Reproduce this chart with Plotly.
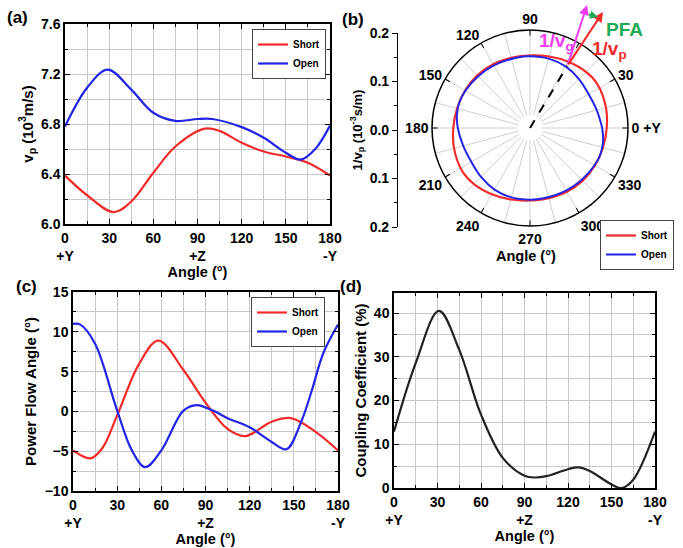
import plotly.graph_objects as go
import numpy as np

W, H = 683, 548

# ---------------- data ----------------
# (a) phase velocity (10^3 m/s)
a_short_ang = [0, 15, 33, 45, 60, 75, 95, 105, 120, 135, 150, 165, 180]
a_short_v = [6.387, 6.23, 6.095, 6.18, 6.41, 6.62, 6.763, 6.745, 6.65, 6.58, 6.54, 6.49, 6.387]
a_open_ang = [0, 15, 29, 45, 60, 75, 90, 100, 120, 135, 150, 160, 170, 180]
a_open_v = [6.78, 7.09, 7.235, 7.075, 6.89, 6.825, 6.84, 6.84, 6.775, 6.69, 6.57, 6.515, 6.6, 6.787]

# (c) power flow angle (deg)
c_short_ang = [0, 12, 20, 30, 45, 58, 75, 90, 105, 117, 135, 148, 165, 180]
c_short_v = [-4.9, -5.9, -4.6, -0.5, 6.0, 8.9, 5.2, 1.1, -2.2, -3.1, -1.3, -0.85, -2.6, -4.9]
c_open_ang = [0, 5, 15, 30, 40, 49, 60, 75, 84, 95, 105, 120, 135, 145, 155, 162, 170, 180]
c_open_v = [11.0, 10.9, 8.5, 0.1, -4.9, -7.0, -4.9, 0.1, 0.8, 0.1, -0.85, -2.0, -3.85, -4.75, -1.3, 2.5, 7.3, 10.9]

# (d) coupling coefficient (%)
d_ang = [0, 15, 31, 45, 60, 75, 90, 97, 105, 120, 127, 135, 150, 157, 165, 180]
d_k = [12.9, 28.6, 40.5, 31.6, 16.8, 6.9, 2.8, 2.4, 2.7, 4.3, 4.7, 3.9, 0.8, 0.0, 1.9, 12.9]

# (b) slowness direction marker
pfa_theta = [59, 59]
pfa_r = [0.0, 0.148]

x_tickvals = [0, 30, 60, 90, 120, 150, 180]
x_ticktext = ["0<br>+Y", "30", "60", "90<br>+Z", "120", "150", "180<br>-Y"]
pol_label_vals = [0, 30, 90, 120, 150, 180, 210, 240, 270, 300, 330]
pol_label_text = ["0 +Y", "30", "90", "120", "150", "180", "210", "240", "270", "300", "330"]
pol_tick_vals = list(range(0, 360, 30))
pol_spokes = list(range(0, 360, 15))

RED = "#F22A2A"
BLUE = "#2424E6"
MAG = "#F23CF2"
GRN = "#1DAA55"
FONT = "Liberation Sans"

def full_circle(ang, v):
    th = list(ang) + [t + 180 for t in ang[1:]]
    r = [1.0 / x for x in v] + [1.0 / x for x in v[1:]]
    return th, r

fig = go.Figure()

# (a)
fig.add_trace(go.Scatter(x=a_short_ang, y=a_short_v, mode="lines", name="Short",
                         line=dict(color=RED, width=2.2, shape="spline"), xaxis="x", yaxis="y", legend="legend"))
fig.add_trace(go.Scatter(x=a_open_ang, y=a_open_v, mode="lines", name="Open",
                         line=dict(color=BLUE, width=2.2, shape="spline"), xaxis="x", yaxis="y", legend="legend"))
# (c)
fig.add_trace(go.Scatter(x=c_short_ang, y=c_short_v, mode="lines", name="Short",
                         line=dict(color=RED, width=2.2, shape="spline"), xaxis="x2", yaxis="y2", legend="legend2"))
fig.add_trace(go.Scatter(x=c_open_ang, y=c_open_v, mode="lines", name="Open",
                         line=dict(color=BLUE, width=2.2, shape="spline"), xaxis="x2", yaxis="y2", legend="legend2"))
# (d)
fig.add_trace(go.Scatter(x=d_ang, y=d_k, mode="lines", showlegend=False,
                         line=dict(color="#222222", width=2.2, shape="spline"), xaxis="x3", yaxis="y3"))
# radial scale helper
fig.add_trace(go.Scatter(x=[None], y=[None], showlegend=False, xaxis="x4", yaxis="y4"))

# (b) polar: spokes layer (polar) + data layer (polar2) + tick layer (polar3)
fig.add_trace(go.Scatterpolar(theta=[0], r=[None], mode="lines", showlegend=False, subplot="polar"))
th_s, r_s = full_circle(a_short_ang, a_short_v)
th_o, r_o = full_circle(a_open_ang, a_open_v)
fig.add_trace(go.Scatterpolar(theta=th_s, r=r_s, mode="lines", name="Short", subplot="polar2",
                              line=dict(color=RED, width=2.2, shape="spline"), legend="legend3"))
fig.add_trace(go.Scatterpolar(theta=th_o, r=r_o, mode="lines", name="Open", subplot="polar2",
                              line=dict(color=BLUE, width=2, shape="spline"), legend="legend3"))
fig.add_trace(go.Scatterpolar(theta=pfa_theta, r=pfa_r, mode="lines", showlegend=False, subplot="polar2",
                              line=dict(color="black", width=2, dash="dash")))
fig.add_trace(go.Scatterpolar(theta=[0], r=[None], mode="lines", showlegend=False, subplot="polar3"))

tickfont = dict(family=FONT, size=14, color="black", weight="bold")
xtitlefont = dict(family=FONT, size=14.5, color="black", weight="bold")
ytitlefont = dict(family=FONT, size=15, color="black", weight="bold")

def xax(dom, anchor):
    return dict(domain=dom, anchor=anchor, range=[0, 180], tickmode="array", tickvals=x_tickvals,
                ticktext=x_ticktext, ticks="inside", ticklen=5, tickwidth=1.2, tickcolor="black",
                showline=True, linecolor="black", linewidth=1.5, mirror="ticks", automargin=False,
                showgrid=True, gridcolor="#c8c8c8", gridwidth=1,
                minor=dict(dtick=15, tick0=0, showgrid=True, gridcolor="#c8c8c8", ticks="inside", ticklen=3),
                tickfont=tickfont, title=dict(text="Angle (°)", font=xtitlefont, standoff=2), zeroline=False)

def yax(dom, anchor, rng, dtick, minor, fmt, title):
    return dict(domain=dom, anchor=anchor, range=rng, dtick=dtick, tick0=rng[0], tickformat=fmt,
                ticks="inside", ticklen=5, tickwidth=1.2, tickcolor="black", automargin=False,
                showline=True, linecolor="black", linewidth=1.5, mirror="ticks",
                showgrid=True, gridcolor="#c8c8c8", gridwidth=1,
                minor=dict(dtick=minor, showgrid=True, gridcolor="#c8c8c8", ticks="inside", ticklen=3),
                tickfont=tickfont, title=dict(text=title, font=ytitlefont, standoff=4), zeroline=False)

pol_dom = dict(x=[432 / W, 628 / W], y=[1 - 226 / H, 1 - 30 / H])
legfont = dict(family=FONT, size=10, color="black", weight="bold")

fig.update_layout(
    width=W, height=H, margin=dict(l=0, r=0, t=0, b=0, autoexpand=False),
    paper_bgcolor="white", plot_bgcolor="white",
    xaxis=xax([65 / W, 330 / W], "y"),
    yaxis=yax([1 - 224 / H, 1 - 24 / H], "x", [6.0, 7.6], 0.4, 0.2, ".1f", "v<sub>p</sub> (10<sup>3</sup>m/s)"),
    xaxis2=xax([73 / W, 338 / W], "y2"),
    yaxis2=yax([1 - 491 / H, 1 - 292 / H], "x2", [-10, 15], 5, 2.5, "", "Power Flow Angle (°)"),
    xaxis3=xax([394 / W, 655 / W], "y3"),
    yaxis3=yax([1 - 488 / H, 1 - 293 / H], "x3", [0, 44.6], 10, 5, "", "Coupling Coefficient (%)"),
    xaxis4=dict(domain=[398 / W, 399 / W], anchor="y4", visible=False, range=[0, 1]),
    yaxis4=dict(domain=[1 - 227 / H, 1 - 33 / H], anchor="x4", range=[-0.2, 0.2], tickmode="array",
                tickvals=[-0.2, -0.1, 0, 0.1, 0.2], ticktext=["0.2", "0.1", "0.0", "0.1", "0.2"],
                ticks="outside", ticklen=5, tickcolor="black", showline=True, linecolor="black", linewidth=1.2,
                minor=dict(tickvals=[-0.15, -0.05, 0.05, 0.15], ticks="outside", ticklen=3, tickcolor="black"),
                showgrid=False, zeroline=False, tickfont=tickfont, automargin=False,
                title=dict(text="1/v<sub>p</sub> (10<sup>-3</sup>s/m)", font=dict(family=FONT, size=13, color="black", weight="bold"), standoff=4)),
    polar=dict(domain=pol_dom, bgcolor="white", hole=0.13,
               radialaxis=dict(range=[0, 0.2], visible=False),
               angularaxis=dict(rotation=0, direction="counterclockwise", tickmode="array",
                                tickvals=pol_spokes, showticklabels=False, ticks="", showline=False,
                                showgrid=True, gridcolor="#cfcfcf", gridwidth=1)),
    polar2=dict(domain=pol_dom, bgcolor="rgba(0,0,0,0)",
                radialaxis=dict(range=[0, 0.2], visible=False),
                angularaxis=dict(rotation=0, direction="counterclockwise", tickmode="array",
                                 tickvals=pol_label_vals, ticktext=pol_label_text, ticks="", showgrid=False,
                                 showline=True, linecolor="black", linewidth=1.5, tickfont=tickfont)),
    polar3=dict(domain=pol_dom, bgcolor="rgba(0,0,0,0)",
                radialaxis=dict(range=[0, 0.2], visible=False),
                angularaxis=dict(rotation=0, direction="counterclockwise", tickmode="array",
                                 tickvals=pol_tick_vals, showticklabels=False, ticks="inside", ticklen=5,
                                 tickcolor="black", showgrid=False, showline=False)),
    legend=dict(x=326 / W, y=1 - 29 / H, xanchor="right", yanchor="top", bgcolor="white",
                bordercolor="#444", borderwidth=1, font=legfont, tracegroupgap=0, itemwidth=30),
    legend2=dict(x=325 / W, y=1 - 297 / H, xanchor="right", yanchor="top", bgcolor="white",
                 bordercolor="#444", borderwidth=1, font=legfont, tracegroupgap=0, itemwidth=30),
    legend3=dict(x=674 / W, y=1 - 220 / H, xanchor="right", yanchor="top", bgcolor="white",
                 bordercolor="#444", borderwidth=1, font=legfont, tracegroupgap=0, itemwidth=30),
)

# polar geometry for decorations
cx, cy, R = 530, 128, 98
ang = np.deg2rad(pfa_theta[1])
sx = cx + pfa_r[1] / 0.2 * R * np.cos(ang)
sy = cy - pfa_r[1] / 0.2 * R * np.sin(ang)

def P(x, y):
    return x / W, 1 - y / H

anns = []
for lbl, x, y in [("(a)", 17, 17), ("(b)", 353, 20), ("(c)", 26, 286), ("(d)", 351, 286)]:
    px, py = P(x, y)
    anns.append(dict(x=px, y=py, xref="paper", yref="paper", text=lbl, showarrow=False,
                     xanchor="center", yanchor="middle",
                     font=dict(family=FONT, size=17, color="black", weight="bold")))
px, py = P(526, 256)
anns.append(dict(x=px, y=py, xref="paper", yref="paper", text="Angle (°)", showarrow=False,
                 xanchor="center", yanchor="middle", font=xtitlefont))
# arrows
for tipx, tipy, col in [(587, 5, MAG), (603, 12, RED)]:
    px, py = P(tipx, tipy)
    anns.append(dict(x=px, y=py, xref="paper", yref="paper", ax=sx - tipx, ay=sy - tipy, text="",
                     showarrow=True, arrowhead=2, arrowsize=1, arrowwidth=2, arrowcolor=col))
px, py = P(598, 17)
anns.append(dict(x=px, y=py, xref="paper", yref="paper", ax=-11, ay=-3, text="", showarrow=True,
                 arrowhead=2, arrowsize=0.8, arrowwidth=2, arrowcolor=GRN))
for txt, x, y, col in [("PFA", 624, 30, GRN), ("1/v<sub>g</sub>", 556, 42, MAG), ("1/v<sub>p</sub>", 609, 50, RED)]:
    px, py = P(x, y)
    anns.append(dict(x=px, y=py, xref="paper", yref="paper", text=txt, showarrow=False,
                     xanchor="center", yanchor="middle",
                     font=dict(family=FONT, size=19, color=col, weight="bold")))
fig.update_layout(annotations=anns)

fig.write_html("out.html")
